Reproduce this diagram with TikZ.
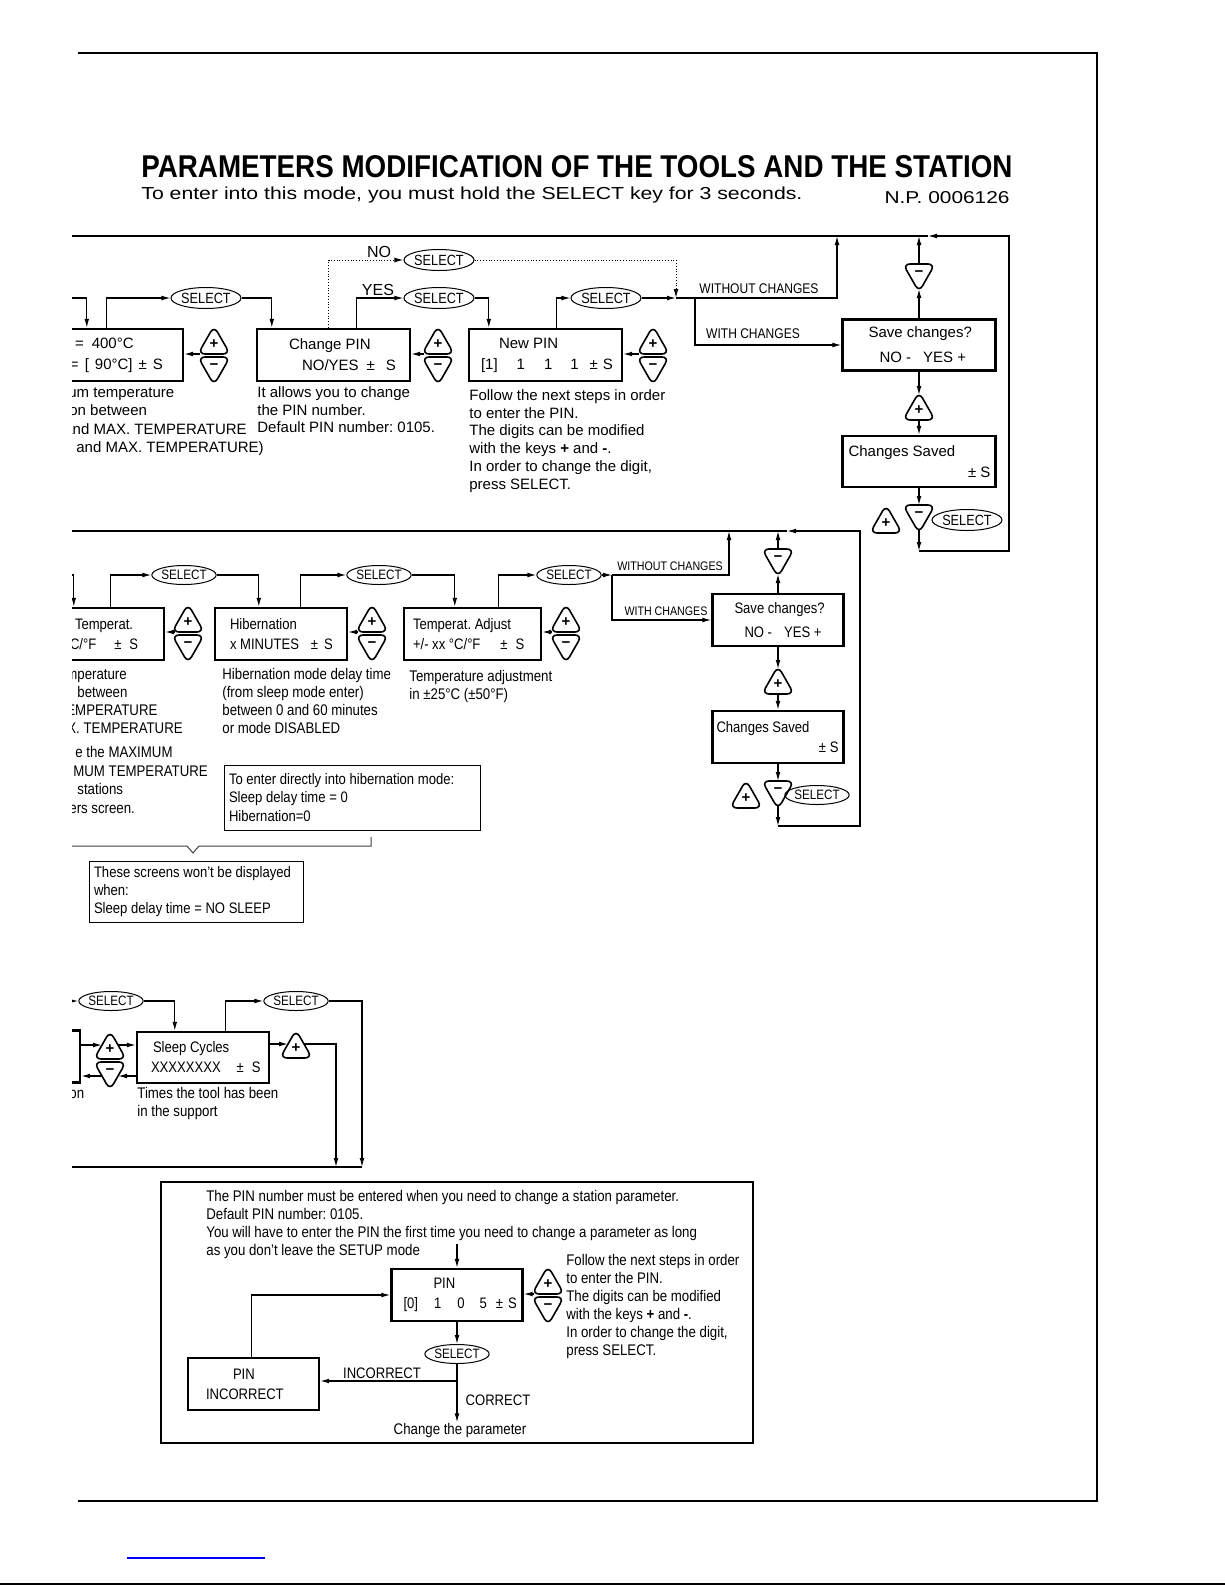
\documentclass[tikz,border=0pt]{standalone}
\usepackage{graphicx}
\usepackage{fontspec}
\setmainfont{Liberation Sans}
\newfontfamily\narrowfont[FakeStretch=0.86]{Liberation Sans}
\usetikzlibrary{arrows.meta, positioning, shapes.geometric, calc}

% keys of the station: (#2,#3) is the middle of the flat side
\newcommand{\plusbtn}[3]{%
	\draw[btn] ({#2-16},{#3}) -- ({#2},{#3-28}) -- ({#2+16},{#3}) -- cycle;
	\node[btnlbl] (#1) at ({#2},{#3-9.5}) {+};
	\coordinate (#1-a) at ({#2},{#3-25});
	\coordinate (#1-b) at ({#2},{#3});
	\coordinate (#1-c) at ({#2-14},{#3});
	\coordinate (#1-l) at ({#2-8},{#3-14});
	\coordinate (#1-r) at ({#2+8},{#3-14});}
\newcommand{\minusbtn}[3]{%
	\draw[btn] ({#2-16},{#3}) -- ({#2},{#3+28}) -- ({#2+16},{#3}) -- cycle;
	\node[btnlbl] (#1) at ({#2},{#3+9.5}) {−};
	\coordinate (#1-a) at ({#2},{#3+25});
	\coordinate (#1-b) at ({#2},{#3});
	\coordinate (#1-c) at ({#2-14},{#3});
	\coordinate (#1-l) at ({#2-8},{#3+14});
	\coordinate (#1-r) at ({#2+8},{#3+14});}
\newcommand{\rightpart}[1]{\hspace*{0pt plus 1filll}#1\kern2.5pt\mbox{}}

\begin{document}
\frenchspacing
\begin{tikzpicture}[x=0.5pt, y=-0.5pt,
		line/.style={line width=0.6pt},
		arr/.style={line, -{Latex[length=4.5pt, width=2.4pt]}},
		dotarr/.style={arr, line width=0.5pt, dash pattern=on 0.5pt off 0.9pt},
		box/.style={draw, line width=1.2pt, inner xsep=0pt, inner ysep=0pt, align=flush left, minimum height=26pt},
		boxA/.style={box, font=\fontsize{7.5}{10.5}\selectfont},
		boxB/.style={box, font=\narrowfont\fontsize{7.6}{10}\selectfont},
		note/.style={draw, line width=0.5pt, inner xsep=2.5pt, inner ysep=0pt, align=flush left, font=\narrowfont\fontsize{7.6}{9.2}\selectfont},
		sel/.style={draw, ellipse, line width=0.5pt, inner sep=0pt, minimum width=25pt, minimum height=9.5pt, font=\narrowfont\fontsize{6.8}{6.8}\selectfont},
		selA/.style={sel, minimum width=29pt, minimum height=10.5pt, font=\narrowfont\fontsize{7.4}{7.4}\selectfont},
		btn/.style={draw, line width=0.8pt, rounded corners=3.5pt},
		btnlbl/.style={inner sep=0pt, font=\bfseries\fontsize{7.5}{7.5}\selectfont},
		txtA/.style={inner sep=0pt, align=left, font=\fontsize{7.5}{8.9}\selectfont},
		txtB/.style={inner sep=0pt, align=left, font=\narrowfont\fontsize{7.7}{9}\selectfont},
		lblA/.style={inner sep=0pt, font=\fontsize{8}{8}\selectfont},
		lblB/.style={inner sep=0pt, font=\narrowfont\fontsize{7}{7}\selectfont},
		lblC/.style={inner sep=0pt, font=\narrowfont\fontsize{6.2}{6.2}\selectfont},
		lblD/.style={inner sep=0pt, font=\narrowfont\fontsize{7.6}{7.6}\selectfont}
	]
	\useasboundingbox (0,0) rectangle (1225,1585);
	
	% Page
	\draw[line width=0.8pt] (78,53) -- (1097,53) -- (1097,1501) -- (78,1501);
	\draw[blue, line width=0.6pt] (127,1558) -- (265,1558);
	\draw[line width=0.8pt] (0,1584) -- (1225,1584);
	
	\node[anchor=base west, inner sep=0pt] (title) at (141,177)
		{\resizebox{435.5pt}{11pt}{\bfseries PARAMETERS MODIFICATION OF THE TOOLS AND THE STATION}};
	\node[anchor=base west, inner sep=0pt] (subtitle) at (141,199)
		{\resizebox{330.5pt}{6.3pt}{To enter into this mode, you must hold the SELECT key for 3 seconds.}};
	\node[anchor=base east, inner sep=0pt] (docno) at (1010,203)
		{\resizebox{62.5pt}{6pt}{N.P. 0006126}};
	
	\begin{scope}
		\clip (72,0) rectangle (1225,1585);
		
		% ---------- Station: temperature and PIN ----------
		\node[boxA, text width=76.5pt] (maxtemp) at (106.5,355)
			{\hspace*{22.5pt}=\hspace{4pt}400°C\\\hspace*{20pt}=\hspace{3pt}[\hspace{3pt}90°C]\hspace{3pt}±\hspace{3pt}S};
		\node[boxA, text width=76.5pt] (pinchg) at (333.5,355)
			{\hspace*{16pt}Change PIN\\\hspace*{22.5pt}NO/YES\hspace{4pt}±\hspace{5.5pt}S};
		\node[boxA, text width=76.5pt] (newpin) at (545.5,355)
			{\hspace*{15pt}New PIN\\\hspace*{6pt}[1]\hspace{9.5pt}1\hspace{9.5pt}1\hspace{9pt}1\hspace{5.5pt}±\hspace{2.5pt}S};
		\node[boxA, text width=76.5pt, minimum height=25.5pt] (savA) at (919,345)
			{\hspace*{13pt}Save changes?\\[2pt]\hspace*{18.5pt}NO -\hspace{6pt}YES +};
		\node[boxA, text width=76.5pt, minimum height=25.5pt] (donA) at (919,461.5)
			{\hspace*{3pt}Changes Saved\\\rightpart{± S}};
		
		\node[selA] (selA1) at (206,298) {SELECT};
		\node[selA] (selno) at (439,260) {SELECT};
		\node[selA] (selyes) at (439,298) {SELECT};
		\node[selA] (selpin) at (606,298) {SELECT};
		\node[selA] (selA2) at (967,520) {SELECT};
		
		\plusbtn{pA1}{214}{354} \minusbtn{mA1}{214}{357}
		\plusbtn{pA2}{438}{354} \minusbtn{mA2}{438}{357}
		\plusbtn{pA3}{653}{354} \minusbtn{mA3}{653}{357}
		\minusbtn{mA4}{919}{264}
		\plusbtn{pA4}{919}{420}
		\plusbtn{pA5}{886}{533} \minusbtn{mA5}{919}{505}
		
		\node[lblA] (nolbl) at (379,252) {NO};
		\node[lblA] (yeslbl) at (378,290) {YES};
		\node[lblB] (wocA) at (759,289) {WITHOUT CHANGES};
		\node[lblB] (wcA) at (753,334) {WITH CHANGES};
		
		\node[txtA, anchor=base west] (mt1) at (68,397) {um temperature};
		\node[txtA, anchor=base west] (mt2) at (69,415) {on between};
		\node[txtA, anchor=base west] (mt3) at (64,434) {and MAX. TEMPERATURE};
		\node[txtA, anchor=base west] (mt4) at (76,452) {and MAX. TEMPERATURE)};
		\node[txtA, anchor=north west] (pinchgtxt) at (257,386)
			{It allows you to change\\the PIN number.\\Default PIN number: 0105.};
		\node[txtA, anchor=north west] (newpintxt) at (469,389)
			{Follow the next steps in order\\to enter the PIN.\\The digits can be modified\\with the keys \textbf{+} and \textbf{-}.\\In order to change the digit,\\press SELECT.};
		
		\coordinate (inA) at (60,298);
		\coordinate (jA) at (676,298);
		\coordinate (brA) at (695,298);
		\coordinate (tA0) at (60,236);
		\coordinate (tA1) at (837,236);
		\coordinate (tA2) at (919,236);
		\coordinate (tA3) at (1009,236);
		\coordinate (tA4) at (928,236);
		\coordinate (cA) at (919,551);
		
		% Arrows
		\draw[arr] (inA) -| ($(maxtemp.north west)+(58,0)$);
		\draw[arr] ($(maxtemp.north west)+(78,0)$) |- (selA1);
		\draw[arr] (selA1) -| ($(pinchg.north west)+(16,0)$);
		\draw[dotarr] ($(pinchg.north west)+(73,0)$) |- (selno);
		\draw[arr] ($(pinchg.north west)+(101,0)$) |- (selyes);
		\draw[arr] (selyes) -| ($(newpin.north west)+(21,0)$);
		\draw[arr] ($(newpin.north west)+(89,0)$) |- (selpin);
		\draw[dotarr] (selno) -| (jA);
		\draw[arr] (selpin) -- (jA);
		\draw[arr] (jA) -| (tA1);
		\draw[arr] (brA) |- (savA);
		\draw[arr] (savA) -- (mA4-a);
		\draw[arr] (mA4-b) -- (tA2);
		\draw[arr] (savA) -- (pA4-a);
		\draw[arr] (pA4-b) -- (donA);
		\draw[arr] (donA) -- (mA5-b);
		\draw[arr] (mA5-a) -- (cA);
		\draw[arr] (cA) -| (tA3) -- (tA4);
		\draw[line] (tA4) -- (tA0);
		\draw[arr] (pA1-c) -- (maxtemp.east |- pA1-c);
		\draw[arr] (pA2-c) -- (pinchg.east |- pA2-c);
		\draw[arr] (pA3-c) -- (newpin.east |- pA3-c);
		
		% ---------- Tool: temperature, hibernation, adjust ----------
		\node[boxB, text width=66pt] (tempB) at (98,634)
			{\hspace*{21.5pt}Temperat.\\\hspace*{19pt}C/°F\hspace{9pt}±\hspace{4pt}S};
		\node[boxB, text width=66pt] (hibB) at (281,634)
			{\hspace*{7.5pt}Hibernation\\\hspace*{7.5pt}x MINUTES\hspace{6pt}±\hspace{3pt}S};
		\node[boxB, text width=68.5pt] (adjB) at (472.5,634)
			{\hspace*{4.5pt}Temperat. Adjust\\\hspace*{4.5pt}+/- xx °C/°F\hspace{10pt}±\hspace{4pt}S};
		\node[boxB, text width=65.5pt] (savB) at (778,620)
			{\hspace*{11pt}Save changes?\\[2pt]\hspace*{16pt}NO -\hspace{6pt}YES +};
		\node[boxB, text width=65.5pt] (donB) at (778,737)
			{\hspace*{2pt}Changes Saved\\\rightpart{± S}};
		
		\node[sel] (selB1) at (184,575) {SELECT};
		\node[sel] (selB2) at (379,575) {SELECT};
		\node[sel] (selB3) at (569,575) {SELECT};
		\node[sel] (selB4) at (817,795) {SELECT};
		
		\plusbtn{pB1}{188}{632} \minusbtn{mB1}{188}{635}
		\plusbtn{pB2}{372}{632} \minusbtn{mB2}{372}{635}
		\plusbtn{pB3}{566}{632} \minusbtn{mB3}{566}{635}
		\minusbtn{mB4}{778}{549}
		\plusbtn{pB4}{778}{694}
		\plusbtn{pB5}{746}{808} \minusbtn{mB5}{778}{781}
		
		\node[lblC] (wocB) at (670,566) {WITHOUT CHANGES};
		\node[lblC] (wcB) at (666,611) {WITH CHANGES};
		
		\node[txtB, anchor=base west] (tt1) at (66,679) {mperature};
		\node[txtB, anchor=base west] (tt2) at (77,697) {between};
		\node[txtB, anchor=base west] (tt3) at (66,715) {EMPERATURE};
		\node[txtB, anchor=base west] (tt4) at (67,733) {X. TEMPERATURE};
		\node[txtB, anchor=base west] (tt5) at (75,757) {e the MAXIMUM};
		\node[txtB, anchor=base west] (tt6) at (73,776) {MUM TEMPERATURE};
		\node[txtB, anchor=base west] (tt7) at (77,794) {stations};
		\node[txtB, anchor=base west] (tt8) at (69,813) {ers screen.};
		\node[txtB, anchor=north west] (hibtxt) at (222,668)
			{Hibernation mode delay time\\(from sleep mode enter)\\between 0 and 60 minutes\\or mode DISABLED};
		\node[txtB, anchor=north west] (adjtxt) at (409,670)
			{Temperature adjustment\\in ±25°C (±50°F)};
		\node[note, text width=123pt, minimum height=32.5pt] (hibnote) at (352,797.5)
			{To enter directly into hibernation mode:\\Sleep delay time = 0\\Hibernation=0};
		\draw[line, line width=0.5pt, black!75] (60,846) -- (187,846) -- (193,853) -- (199,846) -- (371,846) -- (371,837);
		\node[note, text width=102pt, minimum height=30.5pt] (sleepnote) at (196,891.5)
			{These screens won’t be displayed\\when:\\Sleep delay time = NO SLEEP};
		
		\coordinate (inB) at (60,575);
		\coordinate (jB) at (612,575);
		\coordinate (tB0) at (60,531);
		\coordinate (tB1) at (729,531);
		\coordinate (tB2) at (778,531);
		\coordinate (tB3) at (860,531);
		\coordinate (tB4) at (787,531);
		\coordinate (cB) at (778,826);
		
		% Arrows
		\draw[arr] (inB) -| ($(tempB.north west)+(43,0)$);
		\draw[arr] ($(tempB.north west)+(80,0)$) |- (selB1);
		\draw[arr] (selB1) -| ($(hibB.north west)+(45,0)$);
		\draw[arr] ($(hibB.north west)+(87,0)$) |- (selB2);
		\draw[arr] (selB2) -| ($(adjB.north west)+(52,0)$);
		\draw[arr] ($(adjB.north west)+(96,0)$) |- (selB3);
		\draw[arr] (selB3) -- (jB);
		\draw[arr] (jB) -| (tB1);
		\draw[arr] (jB) |- (savB);
		\draw[arr] (savB) -- (mB4-a);
		\draw[arr] (mB4-b) -- (tB2);
		\draw[arr] (savB) -- (pB4-a);
		\draw[arr] (pB4-b) -- (donB);
		\draw[arr] (donB) -- (mB5-b);
		\draw[arr] (mB5-a) -- (cB);
		\draw[arr] (cB) -| (tB3) -- (tB4);
		\draw[line] (tB4) -- (tB0);
		\draw[arr] (pB1-c) -- (tempB.east |- pB1-c);
		\draw[arr] (pB2-c) -- (hibB.east |- pB2-c);
		\draw[arr] (pB3-c) -- (adjB.east |- pB3-c);
		
		% ---------- Tool: sleep cycles ----------
		\node[boxB, text width=66pt] (leftC) at (14,1056.5) {};
		\node[boxB, text width=66pt, minimum height=25.5pt] (sleepC) at (203,1057.5)
			{\hspace*{8pt}Sleep Cycles\\\hspace*{7pt}XXXXXXXX\hspace{8pt}±\hspace{4pt}S};
		\node[sel] (selC1) at (111,1001) {SELECT};
		\node[sel] (selC2) at (296,1001) {SELECT};
		\plusbtn{pC1}{110}{1059} \minusbtn{mC1}{110}{1062}
		\plusbtn{pC2}{296}{1058}
		\node[txtB, anchor=base west] (on) at (69,1098) {on};
		\node[txtB, anchor=north west] (sleeptxt) at (137,1087)
			{Times the tool has been\\in the support};
		
		\coordinate (inC) at (60,1001);
		\coordinate (dC1) at (336,1167);
		\coordinate (dC2) at (362,1167);
		\coordinate (tC0) at (60,1167);
		
		% Arrows
		\draw[arr] (inC) -- (selC1);
		\draw[arr] (selC1) -| ($(sleepC.north west)+(39,0)$);
		\draw[arr] ($(sleepC.north west)+(90,0)$) |- (selC2);
		\draw[arr] (selC2) -| (dC2);
		\draw[arr] (leftC.east |- pC1-l) -- (pC1-l);
		\draw[arr] (pC1-r) -- (sleepC.west |- pC1-r);
		\draw[arr] (sleepC.west |- mC1-r) -- (mC1-r);
		\draw[arr] (mC1-l) -- (leftC.east |- mC1-l);
		\draw[arr] (sleepC.east |- pC2-l) -- (pC2-l);
		\draw[arr] (pC2-r) -| (dC1);
		\draw[line] (dC2) -- (tC0);
		
		% ---------- PIN request ----------
		\node[draw, line width=0.6pt, minimum width=296pt, minimum height=130.5pt] (pinframe) at (457,1312.5) {};
		\node[txtB, anchor=north west] (pinintro) at (206,1190)
			{The PIN number must be entered when you need to change a station parameter.\\Default PIN number: 0105.\\You will have to enter the PIN the first time you need to change a parameter as long\\as you don’t leave the SETUP mode};
		\node[boxB, text width=65.5pt] (pinD) at (457,1295)
			{\hspace*{21pt}PIN\\\hspace*{6pt}[0]\hspace{8pt}1\hspace{8pt}0\hspace{7.5pt}5\hspace{4.5pt}±\hspace{2.5pt}S};
		\node[boxB, text width=65.5pt] (badD) at (253.5,1384)
			{\hspace*{22.5pt}PIN\\\hspace*{9pt}INCORRECT};
		\node[sel] (selD) at (457,1354) {SELECT};
		\plusbtn{pD}{548}{1294} \minusbtn{mD}{548}{1297}
		\node[txtB, anchor=north west] (pintxt) at (566,1254)
			{Follow the next steps in order\\to enter the PIN.\\The digits can be modified\\with the keys \textbf{+} and \textbf{-}.\\In order to change the digit,\\press SELECT.};
		\node[txtB] (chg) at (460,1430) {Change the parameter};
		\node[lblD] (badlbl) at (382,1373) {INCORRECT};
		\node[lblD] (oklbl) at (498,1400) {CORRECT};
		
		\coordinate (jD) at (457,1381);
		
		% Arrows
		\draw[arr] ([yshift=12pt]pinD.north) -- (pinD.north);
		\draw[arr] (pD-c) -- (pinD.east |- pD-c);
		\draw[arr] (pinD) -- (selD);
		\draw[arr] (selD) -- (selD |- chg.north);
		\draw[arr] (jD) -- (badD.east |- jD);
		\draw[arr] ($(badD.north west)+(65,0)$) |- (pinD);
	\end{scope}
	
\end{tikzpicture}
\end{document}
